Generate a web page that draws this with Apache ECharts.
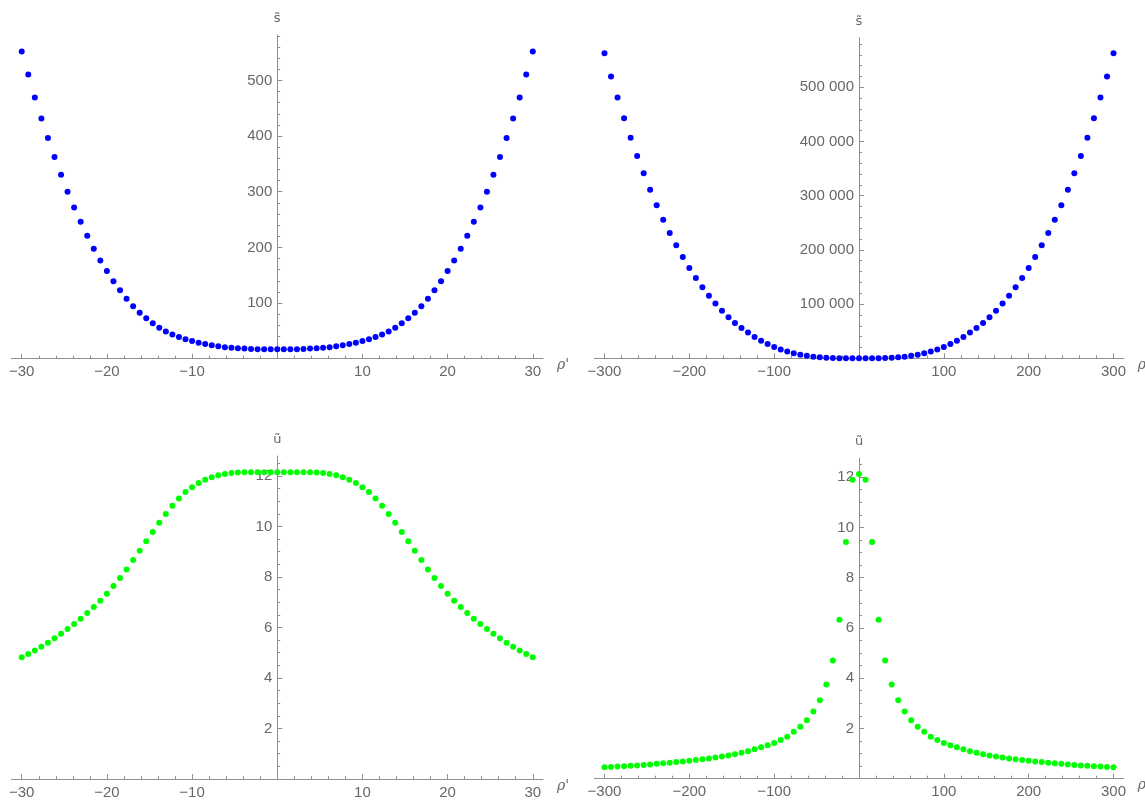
<!DOCTYPE html>
<html>
<head>
<meta charset="utf-8">
<script src="https://cdn.jsdelivr.net/npm/echarts@6/dist/echarts.min.js"></script>
<style>
  html, body { margin: 0; padding: 0; background: #fff; }
  #main { width: 1145px; height: 800px; }
</style>
</head>
<body>
<div id="main"></div>
<script>
// sample positions (rho')
var rhoSmall = [-30, -29.23, -28.46, -27.69, -26.92, -26.15, -25.38, -24.62, -23.85, -23.08,
  -22.31, -21.54, -20.77, -20, -19.23, -18.46, -17.69, -16.92, -16.15, -15.38,
  -14.62, -13.85, -13.08, -12.31, -11.54, -10.77, -10, -9.23, -8.46, -7.69,
  -6.92, -6.15, -5.38, -4.62, -3.85, -3.08, -2.31, -1.54, -0.77, 0,
  0.77, 1.54, 2.31, 3.08, 3.85, 4.62, 5.38, 6.15, 6.92, 7.69,
  8.46, 9.23, 10, 10.77, 11.54, 12.31, 13.08, 13.85, 14.62, 15.38,
  16.15, 16.92, 17.69, 18.46, 19.23, 20, 20.77, 21.54, 22.31, 23.08,
  23.85, 24.62, 25.38, 26.15, 26.92, 27.69, 28.46, 29.23, 30];
var rhoLarge = [-300, -292.3, -284.6, -276.9, -269.2, -261.5, -253.8, -246.2, -238.5, -230.8,
  -223.1, -215.4, -207.7, -200, -192.3, -184.6, -176.9, -169.2, -161.5, -153.8,
  -146.2, -138.5, -130.8, -123.1, -115.4, -107.7, -100, -92.3, -84.6, -76.9,
  -69.2, -61.5, -53.8, -46.2, -38.5, -30.8, -23.1, -15.4, -7.7, 0,
  7.7, 15.4, 23.1, 30.8, 38.5, 46.2, 53.8, 61.5, 69.2, 76.9,
  84.6, 92.3, 100, 107.7, 115.4, 123.1, 130.8, 138.5, 146.2, 153.8,
  161.5, 169.2, 176.9, 184.6, 192.3, 200, 207.7, 215.4, 223.1, 230.8,
  238.5, 246.2, 253.8, 261.5, 269.2, 276.9, 284.6, 292.3, 300];

// s~ values
var sSmall = [552.0, 510.7, 469.4, 431.6, 396.3, 362.2, 330.5, 299.9, 271.8, 246.0,
  220.9, 197.4, 176.6, 157.4, 139.2, 122.8, 107.6, 94.0, 82.6, 72.6,
  63.6, 55.8, 49.0, 43.4, 38.8, 35.0, 31.8, 28.8, 26.4, 24.2,
  22.2, 20.4, 19.5, 18.8, 18.2, 17.6, 17.2, 17.0, 16.9, 16.9,
  16.9, 17.0, 17.2, 17.6, 18.2, 18.8, 19.5, 20.4, 22.2, 24.2,
  26.4, 28.8, 31.8, 35.0, 38.8, 43.4, 49.0, 55.8, 63.6, 72.6,
  82.6, 94.0, 107.6, 122.8, 139.2, 157.4, 176.6, 197.4, 220.9, 246.0,
  271.8, 299.9, 330.5, 362.2, 396.3, 431.6, 469.4, 510.7, 552.0];
var sLarge = [562700, 520000, 481000, 442800, 406800, 373200, 341200, 311200, 282600, 255800,
  231200, 208400, 186800, 166800, 148200, 131200, 115400, 101000, 87800, 75800,
  65000, 55800, 47400, 39400, 32400, 26200, 20800, 16200, 12400, 9200,
  6600, 4600, 2900, 1800, 1100, 600, 320, 110, 30, 17,
  30, 110, 320, 600, 1100, 1800, 2900, 4600, 6600, 9200,
  12400, 16200, 20800, 26200, 32400, 39400, 47400, 55800, 65000, 75800,
  87800, 101000, 115400, 131200, 148200, 166800, 186800, 208400, 231200, 255800,
  282600, 311200, 341200, 373200, 406800, 442800, 481000, 520000, 562700];

// u~ values
var uSmall = [4.82, 4.95, 5.09, 5.24, 5.40, 5.57, 5.75, 5.94, 6.14, 6.35,
  6.57, 6.81, 7.06, 7.34, 7.64, 7.96, 8.30, 8.67, 9.04, 9.41,
  9.78, 10.15, 10.49, 10.82, 11.11, 11.36, 11.55, 11.72, 11.85, 11.95,
  12.03, 12.08, 12.12, 12.14, 12.15, 12.15, 12.15, 12.15, 12.15, 12.15,
  12.15, 12.15, 12.15, 12.15, 12.15, 12.14, 12.12, 12.08, 12.03, 11.95,
  11.85, 11.72, 11.55, 11.36, 11.11, 10.82, 10.49, 10.15, 9.78, 9.41,
  9.04, 8.67, 8.30, 7.96, 7.64, 7.34, 7.06, 6.81, 6.57, 6.35,
  6.14, 5.94, 5.75, 5.57, 5.40, 5.24, 5.09, 4.95, 4.82];
var uLarge = [0.46, 0.47, 0.49, 0.50, 0.52, 0.53, 0.55, 0.57, 0.59, 0.61,
  0.63, 0.66, 0.68, 0.71, 0.74, 0.77, 0.80, 0.84, 0.88, 0.92,
  0.97, 1.03, 1.09, 1.17, 1.25, 1.33, 1.42, 1.54, 1.67, 1.87,
  2.07, 2.33, 2.67, 3.12, 3.75, 4.70, 6.33, 9.42, 11.90, 12.13,
  11.90, 9.42, 6.33, 4.70, 3.75, 3.12, 2.67, 2.33, 2.07, 1.87,
  1.67, 1.54, 1.42, 1.33, 1.25, 1.17, 1.09, 1.03, 0.97, 0.92,
  0.88, 0.84, 0.80, 0.77, 0.74, 0.71, 0.68, 0.66, 0.63, 0.61,
  0.59, 0.57, 0.55, 0.53, 0.52, 0.50, 0.49, 0.47, 0.46];

// tick values
var xMajorSmall = [-30, -20, -10, 0, 10, 20, 30];
var xLabelSmall = [-30, -20, -10, 10, 20, 30];
var xMinorSmall = [-30, -28, -26, -24, -22, -20, -18, -16, -14, -12, -10, -8, -6, -4, -2, 0,
  2, 4, 6, 8, 10, 12, 14, 16, 18, 20, 22, 24, 26, 28, 30];
var xMajorLarge = [-300, -200, -100, 0, 100, 200, 300];
var xLabelLarge = [-300, -200, -100, 100, 200, 300];
var xMinorLarge = [-300, -280, -260, -240, -220, -200, -180, -160, -140, -120, -100, -80, -60, -40, -20, 0,
  20, 40, 60, 80, 100, 120, 140, 160, 180, 200, 220, 240, 260, 280, 300];
var yMajorS = [0, 100, 200, 300, 400, 500];
var yLabelS = [100, 200, 300, 400, 500];
var yMinorS = [0, 20, 40, 60, 80, 100, 120, 140, 160, 180, 200, 220, 240, 260, 280, 300,
  320, 340, 360, 380, 400, 420, 440, 460, 480, 500, 520, 540, 560, 580];
var yMajorSL = [0, 100000, 200000, 300000, 400000, 500000];
var yLabelSL = [100000, 200000, 300000, 400000, 500000];
var yMinorSL = [0, 20000, 40000, 60000, 80000, 100000, 120000, 140000, 160000, 180000, 200000,
  220000, 240000, 260000, 280000, 300000, 320000, 340000, 360000, 380000, 400000,
  420000, 440000, 460000, 480000, 500000, 520000, 540000, 560000, 580000];
var yMajorU = [0, 2, 4, 6, 8, 10, 12];
var yLabelU = [2, 4, 6, 8, 10, 12];
var yMinorU = [0, 0.5, 1, 1.5, 2, 2.5, 3, 3.5, 4, 4.5, 5, 5.5, 6, 6.5, 7, 7.5, 8, 8.5,
  9, 9.5, 10, 10.5, 11, 11.5, 12, 12.5];

var dom = document.getElementById('main');
var myChart = echarts.init(dom, null, { renderer: 'canvas' });

var axisColor = '#8f8f8f';
var labelColor = '#676767';
var font = 'Liberation Sans';

function fmt(v) {
  var s = String(Math.abs(v)).replace(/\B(?=(\d{3})+(?!\d))/g, ' ');
  return (v < 0 ? '\u2212' : '') + s;
}

var grids = [], xAxes = [], yAxes = [], series = [];

function addPanel(rect, xLim, xMajor, xLabels, xMinor, yMax, yMajor, yLabels, yMinor, yName, rho, vals, color) {
  var gi = grids.length;
  // x range is symmetric, so the vertical axis (at rho' = 0) sits mid-grid
  var yOff = -rect[2] / 2;
  grids.push({ left: rect[0], top: rect[1], width: rect[2], height: rect[3], outerBoundsMode: 'none' });
  xAxes.push({
    type: 'value', gridIndex: gi, min: -xLim, max: xLim, position: 'bottom',
    axisLine: { onZero: false, lineStyle: { color: axisColor, width: 1 } },
    axisTick: { inside: true, length: 5, customValues: xMajor, lineStyle: { color: axisColor } },
    axisLabel: { customValues: xLabels, formatter: fmt, color: labelColor, fontSize: 15, fontFamily: font, margin: 6 },
    splitLine: { show: false },
    name: "\u03c1'", nameLocation: 'end', nameGap: 14,
    nameTextStyle: { color: labelColor, fontSize: 14, fontStyle: 'italic', fontFamily: 'DejaVu Serif', verticalAlign: 'top' }
  });
  // minor ticks
  xAxes.push({
    type: 'value', gridIndex: gi, min: -xLim, max: xLim, position: 'bottom',
    axisLine: { show: false, onZero: false },
    axisTick: { inside: true, length: 3, customValues: xMinor, lineStyle: { color: axisColor } },
    axisLabel: { show: false },
    splitLine: { show: false }
  });
  yAxes.push({
    type: 'value', gridIndex: gi, min: 0, max: yMax, position: 'left', offset: yOff,
    axisLine: { onZero: false, lineStyle: { color: axisColor, width: 1 } },
    axisTick: { inside: true, length: 5, customValues: yMajor, lineStyle: { color: axisColor } },
    axisLabel: { customValues: yLabels, formatter: fmt, color: labelColor, fontSize: 15, fontFamily: font, margin: 5 },
    splitLine: { show: false },
    name: yName, nameLocation: 'end', nameGap: 10,
    nameTextStyle: { color: labelColor, fontSize: 13, fontFamily: 'DejaVu Sans' }
  });
  yAxes.push({
    type: 'value', gridIndex: gi, min: 0, max: yMax, position: 'left', offset: yOff,
    axisLine: { show: false, onZero: false },
    axisTick: { inside: true, length: 3, customValues: yMinor, lineStyle: { color: axisColor } },
    axisLabel: { show: false },
    splitLine: { show: false }
  });
  series.push({
    type: 'scatter',
    xAxisIndex: 2 * gi,
    yAxisIndex: 2 * gi,
    symbolSize: 6,
    itemStyle: { color: color, opacity: 1 },
    data: rho.map(function (x, i) { return [x, vals[i]]; })
  });
}

addPanel([11.5, 35, 531.5, 323.7], 31.2, xMajorSmall, xLabelSmall, xMinorSmall,
  581.5, yMajorS, yLabelS, yMinorS, 's\u0303', rhoSmall, sSmall, '#0000ff');
addPanel([594.3, 37.7, 529.4, 320.6], 312, xMajorLarge, xLabelLarge, xMinorLarge,
  591500, yMajorSL, yLabelSL, yMinorSL, 's\u0303', rhoLarge, sLarge, '#0000ff');
addPanel([11.5, 456, 531.5, 323], 31.2, xMajorSmall, xLabelSmall, xMinorSmall,
  12.79, yMajorU, yLabelU, yMinorU, '\u0169', rhoSmall, uSmall, '#00ff00');
addPanel([594.3, 458.3, 529.4, 320.4], 312, xMajorLarge, xLabelLarge, xMinorLarge,
  12.75, yMajorU, yLabelU, yMinorU, '\u0169', rhoLarge, uLarge, '#00ff00');

var option = {
  backgroundColor: '#ffffff',
  animation: false,
  grid: grids,
  xAxis: xAxes,
  yAxis: yAxes,
  series: series
};

if (option && typeof option === 'object') {
  myChart.setOption(option, true);
}
</script>
</body>
</html>
